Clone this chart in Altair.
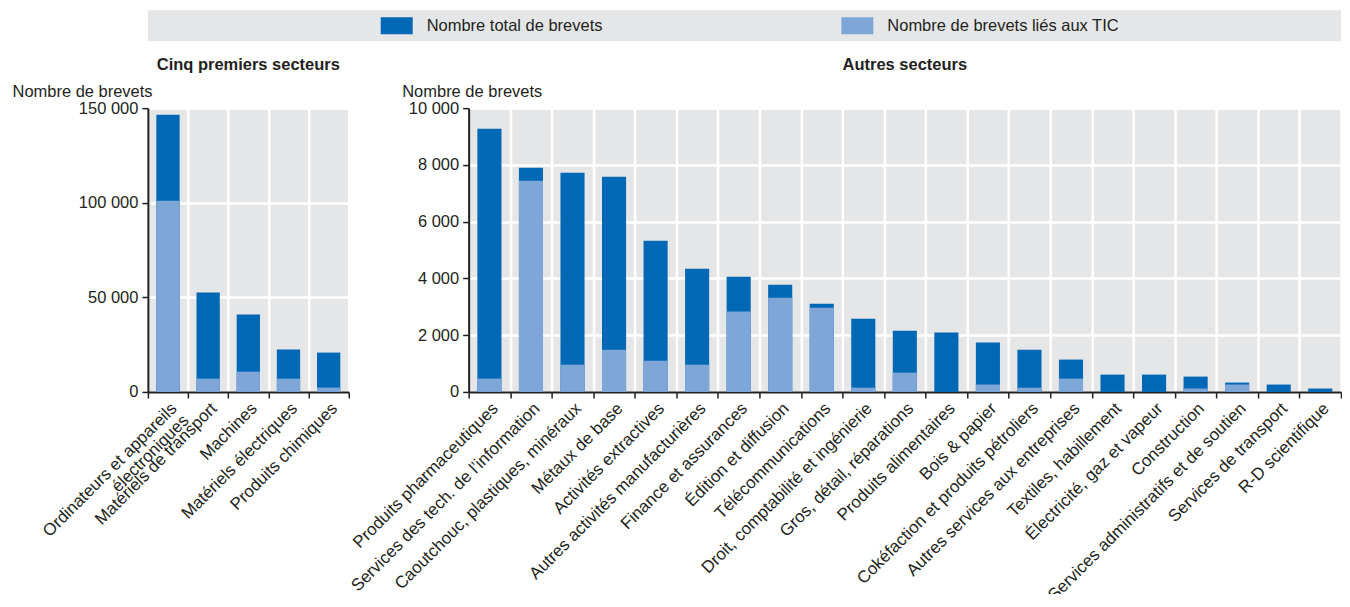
import altair as alt
import pandas as pd

# ---------------- data ----------------
series_names = ["Nombre total de brevets", "Nombre de brevets liés aux TIC"]
series_colors = ["#0068b5", "#7ea7d8"]

top_sectors = [
    "Ordinateurs et appareils\nélectroniques",
    "Matériels de transport",
    "Machines",
    "Matériels électriques",
    "Produits chimiques",
]
top_total = [146500, 52500, 40900, 22400, 20800]
top_ict = [101100, 7000, 10700, 7000, 2300]
top_ticks = [0, 50000, 100000, 150000]

other_sectors = [
    "Produits pharmaceutiques",
    "Services des tech. de l’information",
    "Caoutchouc, plastiques, minéraux",
    "Métaux de base",
    "Activités extractives",
    "Autres activités manufacturières",
    "Finance et assurances",
    "Édition et diffusion",
    "Télécommunications",
    "Droit, comptabilité et ingénierie",
    "Gros, détail, réparations",
    "Produits alimentaires",
    "Bois & papier",
    "Cokéfaction et produits pétroliers",
    "Autres services aux entreprises",
    "Textiles, habillement",
    "Électricité, gaz et vapeur",
    "Construction",
    "Services administratifs et de soutien",
    "Services de transport",
    "R-D scientifique",
]
other_total = [9270, 7900, 7720, 7580, 5330, 4340, 4060, 3780, 3110, 2580, 2160,
               2090, 1740, 1490, 1140, 610, 610, 540, 330, 260, 120]
other_ict = [470, 7440, 960, 1490, 1100, 960, 2830, 3320, 2970, 150, 680,
             0, 260, 150, 470, 0, 0, 120, 260, 0, 0]
other_ticks = [0, 2000, 4000, 6000, 8000, 10000]

# ---------------- style ----------------
FONT = "Liberation Sans"
GRAY = "#e5e6e8"
INK = "#231f20"
FS = 16.5
XFS = 17


def panel(sectors, total, ict, ticks, title, width, title_x):
    df = pd.DataFrame({"sector": sectors, "total": total, "ict": ict})
    x = alt.X(
        "sector:N", sort=sectors, title=None,
        scale=alt.Scale(paddingInner=0, paddingOuter=0),
        axis=alt.Axis(
            labelAngle=315, labelAlign="right", labelBaseline="top",
            labelExpr="split(datum.label, '\\n')", labelLimit=500,
            labelFontSize=XFS, labelColor=INK, labelPadding=2, labelLineHeight=17,
            tickBand="extent", grid=True, gridColor="white", gridWidth=2.5,
            domainColor=INK, domainWidth=2, tickColor=INK, tickWidth=1.5, tickSize=6,
        ),
    )
    yscale = alt.Scale(domain=[ticks[0], ticks[-1]], nice=False)
    yaxis = alt.Axis(
        values=ticks, format=",d", title="Nombre de brevets",
        titleAngle=0, titleAlign="left", titleBaseline="alphabetic",
        titleX=title_x, titleY=-12, titleFontWeight="normal",
        titleFontSize=FS, titleColor=INK,
        grid=True, gridColor="white", gridWidth=2.5,
        domainColor=INK, domainWidth=2, tickColor=INK, tickWidth=1.5, tickSize=6,
        labelFontSize=FS, labelColor=INK, labelPadding=4,
    )
    base = alt.Chart(df)
    b_total = base.mark_bar(color=series_colors[0], width=alt.RelativeBandSize(0.58)).encode(
        x=x, y=alt.Y("total:Q", scale=yscale, axis=yaxis)
    )
    b_ict = base.mark_bar(color=series_colors[1], width=alt.RelativeBandSize(0.58)).encode(
        x=x, y=alt.Y("ict:Q", scale=yscale, axis=yaxis)
    )
    return alt.layer(b_total, b_ict).properties(
        width=width, height=284,
        title=alt.TitleParams(title, fontWeight="bold", fontSize=FS, anchor="middle",
                              offset=10, color=INK),
        view=alt.ViewBackground(fill=GRAY),
    )


left = panel(top_sectors, top_total, top_ict, top_ticks, "Cinq premiers secteurs", 201, -136)
right = panel(other_sectors, other_total, other_ict, other_ticks, "Autres secteurs", 873, -67)

# ---------------- legend band ----------------
legend_df = pd.DataFrame({"series": series_names})
lx = alt.X("series:N", axis=None,
           scale=alt.Scale(type="point", domain=series_names, range=[249, 710], padding=0))
swatch = alt.Chart(legend_df).mark_point(
    shape="M-1,-0.53H1V0.53H-1Z", size=1024, filled=True, opacity=1, strokeWidth=0
).encode(
    x=lx, y=alt.value(15.5),
    color=alt.Color("series:N", scale=alt.Scale(domain=series_names, range=series_colors), legend=None),
)
ltext = alt.Chart(legend_df).mark_text(
    align="left", baseline="middle", dx=30, fontSize=FS, color=INK
).encode(x=lx, y=alt.value(16), text="series:N")
legend = alt.layer(swatch, ltext).properties(
    width=1194, height=31, view=alt.ViewBackground(fill=GRAY)
)

chart = alt.vconcat(
    legend, alt.hconcat(left, right, spacing=120, bounds="flush"), spacing=15
).properties(
    padding={"left": 4, "top": 2, "right": 0, "bottom": -10}
).configure(
    font=FONT,
    locale=alt.Locale(number=alt.NumberLocale(decimal=",", thousands=" ", grouping=[3],
                                               currency=["", " €"])),
).configure_view(strokeWidth=0)

chart.save("out.html", embed_options={"renderer": "svg", "actions": False})
